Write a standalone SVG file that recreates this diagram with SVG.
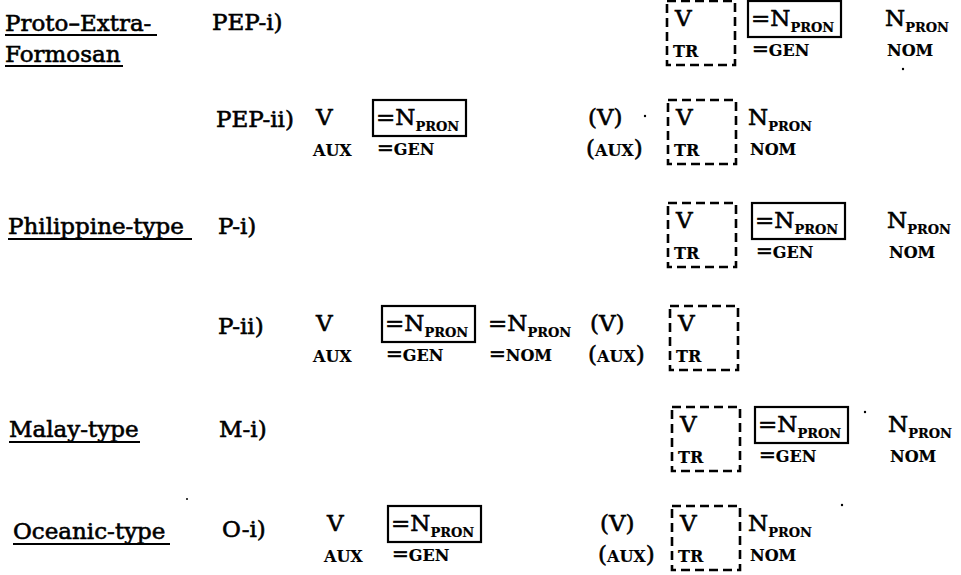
<svg xmlns="http://www.w3.org/2000/svg" width="961" height="575" viewBox="0 0 961 575">
  <style>
    text { font-family: "DejaVu Serif", "Liberation Serif", serif; fill: #000; }
    .lab { font-size: 23px; stroke: #000; stroke-width: 0.6; }
    .m { font-size: 23px; stroke: #000; stroke-width: 0.6; }
    .sc { font-size: 16px; font-weight: bold; stroke: #000; stroke-width: 0.2; }
    .sub { font-size: 13px; font-weight: bold; stroke: #000; stroke-width: 0.2; }
    .eq { font-size: 20px; font-weight: normal; stroke-width: 0.6; }
    .dash { fill: none; stroke: #000; stroke-width: 2.6; stroke-dasharray: 9 5; }
    .box { fill: none; stroke: #000; stroke-width: 2.2; }
    .ul { stroke: #000; stroke-width: 1.8; }
    .speck { fill: #000; }
  </style>
  <defs>
    <!-- transitive verb in a dashed frame -->
    <g id="vtr">
      <rect class="dash" x="0" y="-25" width="68" height="64"/>
      <text class="m" x="8" y="0">V</text>
      <text class="sc" x="6" y="31">TR</text>
    </g>
    <!-- boxed genitive pronominal clitic -->
    <g id="clgen">
      <rect class="box" x="0" y="-25" width="93" height="36"/>
      <text class="m" x="3" y="0">=N<tspan class="sub" dy="6">PRON</tspan></text>
      <text class="sc" x="4" y="30"><tspan class="eq">=</tspan>GEN</text>
    </g>
    <!-- free nominative pronoun -->
    <g id="npnom">
      <text class="m" x="0" y="0">N<tspan class="sub" dy="6">PRON</tspan></text>
      <text class="sc" x="2" y="30">NOM</text>
    </g>
    <!-- auxiliary verb -->
    <g id="vaux">
      <text class="m" x="3" y="0">V</text>
      <text class="sc" x="0" y="31">AUX</text>
    </g>
    <!-- optional auxiliary verb -->
    <g id="pvaux">
      <text class="m" x="2" y="0">(V)</text>
      <text class="m" x="0" y="31">(<tspan class="sc">AUX</tspan>)</text>
    </g>
  </defs>

  <rect width="961" height="575" fill="#fff"/>

  <!-- Proto-Extra-Formosan, PEP-i -->
  <g id="row-pep-i">
    <text class="lab" x="5" y="31">Proto–Extra-</text>
    <line class="ul" x1="5" y1="35" x2="157" y2="35"/>
    <text class="lab" x="5" y="62">Formosan</text>
    <line class="ul" x1="5" y1="66" x2="123" y2="66"/>
    <text class="m" x="212" y="30">PEP-i)</text>
    <use href="#vtr" x="667" y="26"/>
    <use href="#clgen" x="748" y="26"/>
    <use href="#npnom" x="885" y="26"/>
  </g>

  <!-- PEP-ii -->
  <g id="row-pep-ii">
    <text class="m" x="216" y="127">PEP-ii)</text>
    <use href="#vaux" x="313" y="125"/>
    <use href="#clgen" x="373" y="125"/>
    <use href="#pvaux" x="586" y="125"/>
    <use href="#vtr" x="668" y="125"/>
    <use href="#npnom" x="748" y="125"/>
  </g>

  <!-- Philippine-type, P-i -->
  <g id="row-p-i">
    <text class="lab" x="8" y="234">Philippine-type</text>
    <line class="ul" x1="8" y1="239" x2="192" y2="239"/>
    <text class="m" x="218" y="234">P-i)</text>
    <use href="#vtr" x="668" y="228"/>
    <use href="#clgen" x="752" y="228"/>
    <use href="#npnom" x="887" y="228"/>
  </g>

  <!-- P-ii -->
  <g id="row-p-ii">
    <text class="m" x="218" y="334">P-ii)</text>
    <use href="#vaux" x="313" y="331"/>
    <use href="#clgen" x="382" y="331"/>
    <text class="m" x="488" y="331">=N<tspan class="sub" dy="6">PRON</tspan></text>
    <text class="sc" x="489" y="361"><tspan class="eq">=</tspan>NOM</text>
    <use href="#pvaux" x="588" y="331"/>
    <use href="#vtr" x="670" y="331"/>
  </g>

  <!-- Malay-type, M-i -->
  <g id="row-m-i">
    <text class="lab" x="9" y="437">Malay-type</text>
    <line class="ul" x1="9" y1="442" x2="140" y2="442"/>
    <text class="m" x="219" y="437">M-i)</text>
    <use href="#vtr" x="672" y="432"/>
    <use href="#clgen" x="755" y="432"/>
    <use href="#npnom" x="888" y="432"/>
  </g>

  <!-- Oceanic-type, O-i -->
  <g id="row-o-i">
    <text class="lab" x="13" y="539">Oceanic-type</text>
    <line class="ul" x1="13" y1="544" x2="170" y2="544"/>
    <text class="m" x="222" y="537">O-i)</text>
    <use href="#vaux" x="324" y="531"/>
    <use href="#clgen" x="388" y="531"/>
    <use href="#pvaux" x="598" y="531"/>
    <use href="#vtr" x="672" y="531"/>
    <use href="#npnom" x="748" y="531"/>
  </g>

  <!-- stray print marks -->
  <g id="specks">
    <circle class="speck" cx="903" cy="69" r="1.2"/>
    <circle class="speck" cx="645" cy="116" r="1.2"/>
    <circle class="speck" cx="865" cy="412" r="1.2"/>
    <circle class="speck" cx="842" cy="505" r="1.2"/>
    <circle class="speck" cx="187" cy="499" r="1"/>
  </g>
</svg>
